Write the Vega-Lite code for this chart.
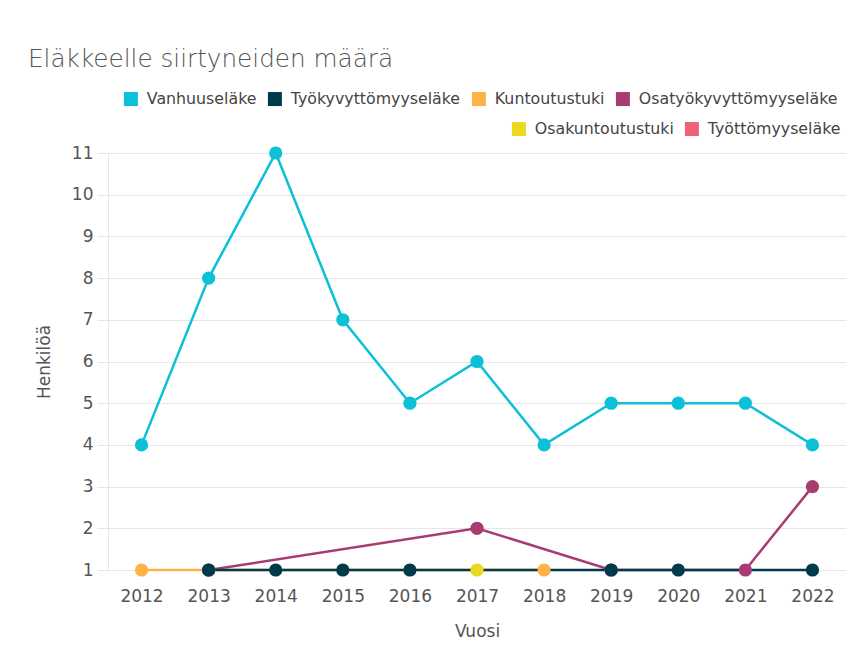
{
  "$schema": "https://vega.github.io/schema/vega-lite/v6.json",
  "width": 738,
  "height": 417,
  "autosize": "none",
  "padding": {"left": 108, "top": 153, "right": 1, "bottom": 81},
  "background": "white",
  "title": {
    "text": "Eläkkeelle siirtyneiden määrä",
    "anchor": "start",
    "frame": "group",
    "dx": -80,
    "fontSize": 24.7,
    "font": "DejaVu Sans",
    "fontWeight": 300,
    "color": "#555555",
    "offset": 19
  },
  "config": {
    "font": "DejaVu Sans",
    "view": {"stroke": null},
    "legend": {
      "symbolType": "square",
      "symbolSize": 196,
      "symbolStrokeWidth": 0,
      "labelFontSize": 15.8,
      "labelColor": "#444444",
      "labelFont": "DejaVu Sans",
      "columnPadding": 10,
      "labelOffset": 8,
      "labelLimit": 400,
      "title": null
    }
  },
  "resolve": {"scale": {"fill": "independent"}, "legend": {"fill": "independent"}},
  "data": {
    "values": [
      {"Vuosi": "2012", "Sarja": "Vanhuuseläke", "Henkilöä": 4},
      {"Vuosi": "2013", "Sarja": "Vanhuuseläke", "Henkilöä": 8},
      {"Vuosi": "2014", "Sarja": "Vanhuuseläke", "Henkilöä": 11},
      {"Vuosi": "2015", "Sarja": "Vanhuuseläke", "Henkilöä": 7},
      {"Vuosi": "2016", "Sarja": "Vanhuuseläke", "Henkilöä": 5},
      {"Vuosi": "2017", "Sarja": "Vanhuuseläke", "Henkilöä": 6},
      {"Vuosi": "2018", "Sarja": "Vanhuuseläke", "Henkilöä": 4},
      {"Vuosi": "2019", "Sarja": "Vanhuuseläke", "Henkilöä": 5},
      {"Vuosi": "2020", "Sarja": "Vanhuuseläke", "Henkilöä": 5},
      {"Vuosi": "2021", "Sarja": "Vanhuuseläke", "Henkilöä": 5},
      {"Vuosi": "2022", "Sarja": "Vanhuuseläke", "Henkilöä": 4},
      {"Vuosi": "2013", "Sarja": "Työkyvyttömyyseläke", "Henkilöä": 1},
      {"Vuosi": "2014", "Sarja": "Työkyvyttömyyseläke", "Henkilöä": 1},
      {"Vuosi": "2015", "Sarja": "Työkyvyttömyyseläke", "Henkilöä": 1},
      {"Vuosi": "2016", "Sarja": "Työkyvyttömyyseläke", "Henkilöä": 1},
      {"Vuosi": "2019", "Sarja": "Työkyvyttömyyseläke", "Henkilöä": 1},
      {"Vuosi": "2020", "Sarja": "Työkyvyttömyyseläke", "Henkilöä": 1},
      {"Vuosi": "2022", "Sarja": "Työkyvyttömyyseläke", "Henkilöä": 1},
      {"Vuosi": "2012", "Sarja": "Kuntoutustuki", "Henkilöä": 1},
      {"Vuosi": "2013", "Sarja": "Kuntoutustuki", "Henkilöä": 1},
      {"Vuosi": "2018", "Sarja": "Kuntoutustuki", "Henkilöä": 1},
      {"Vuosi": "2013", "Sarja": "Osatyökyvyttömyyseläke", "Henkilöä": 1},
      {"Vuosi": "2017", "Sarja": "Osatyökyvyttömyyseläke", "Henkilöä": 2},
      {"Vuosi": "2019", "Sarja": "Osatyökyvyttömyyseläke", "Henkilöä": 1},
      {"Vuosi": "2021", "Sarja": "Osatyökyvyttömyyseläke", "Henkilöä": 1},
      {"Vuosi": "2022", "Sarja": "Osatyökyvyttömyyseläke", "Henkilöä": 3},
      {"Vuosi": "2017", "Sarja": "Osakuntoutustuki", "Henkilöä": 1}
    ]
  },
  "encoding": {
    "x": {
      "field": "Vuosi",
      "type": "ordinal",
      "scale": {"type": "point", "padding": 0.5, "domain": ["2012","2013","2014","2015","2016","2017","2018","2019","2020","2021","2022"]},
      "axis": {
        "title": "Vuosi",
        "labelAngle": 0,
        "labelFontSize": 17,
        "labelColor": "#555555",
        "labelPadding": 18,
        "titleFontSize": 17,
        "titleColor": "#555555",
        "titleFontWeight": "normal",
        "titlePadding": 19,
        "ticks": false,
        "domain": false,
        "grid": false
      }
    },
    "y": {
      "field": "Henkilöä",
      "type": "quantitative",
      "scale": {"domain": [1, 11], "nice": false, "zero": false},
      "axis": {
        "title": "Henkilöä",
        "values": [1,2,3,4,5,6,7,8,9,10,11],
        "labelFontSize": 17,
        "labelColor": "#555555",
        "labelPadding": 4,
        "titleFontSize": 17,
        "titleColor": "#555555",
        "titleFontWeight": "normal",
        "titlePadding": 18,
        "tickSize": 11,
        "tickColor": "#e6e6e6",
        "gridColor": "#e6e6e6",
        "domainColor": "#e6e6e6"
      }
    },
    "color": {
      "field": "Sarja",
      "type": "nominal",
      "scale": {
        "domain": ["Vanhuuseläke","Työkyvyttömyyseläke","Kuntoutustuki","Osatyökyvyttömyyseläke","Osakuntoutustuki","Työttömyyseläke"],
        "range": ["#0cc0d8","#003b4c","#ffb347","#a63c71","#e9d91f","#ef6179"]
      },
      "legend": null
    }
  },
  "layer": [
    {
      "transform": [{"filter": "datum.Sarja != 'Työkyvyttömyyseläke'"}],
      "mark": {"type": "line", "strokeWidth": 2.5}
    },
    {
      "transform": [{"filter": "datum.Sarja == 'Työkyvyttömyyseläke'"}],
      "mark": {"type": "line", "strokeWidth": 2.5}
    },
    {
      "transform": [{"filter": "datum.Sarja != 'Työkyvyttömyyseläke'"}],
      "mark": {"type": "point", "filled": true, "opacity": 1, "size": 175}
    },
    {
      "transform": [{"filter": "datum.Sarja == 'Työkyvyttömyyseläke'"}],
      "mark": {"type": "point", "filled": true, "opacity": 1, "size": 175}
    },
    {
      "transform": [{"filter": "datum.Henkilöä < 0"}],
      "mark": {"type": "square", "opacity": 1},
      "encoding": {
        "color": {"value": "#000000"},
        "fill": {
          "field": "Sarja",
          "type": "nominal",
          "scale": {
            "domain": ["Vanhuuseläke","Työkyvyttömyyseläke","Kuntoutustuki","Osatyökyvyttömyyseläke"],
            "range": ["#0cc0d8","#003b4c","#ffb347","#a63c71"]
          },
          "legend": {"orient": "none", "direction": "horizontal", "legendX": 15, "legendY": -62}
        }
      }
    },
    {
      "transform": [{"filter": "datum.Henkilöä < 0"}],
      "mark": {"type": "square", "opacity": 1},
      "encoding": {
        "color": {"value": "#000000"},
        "fill": {
          "field": "Sarja",
          "type": "nominal",
          "scale": {
            "domain": ["Osakuntoutustuki","Työttömyyseläke"],
            "range": ["#e9d91f","#ef6179"]
          },
          "legend": {"orient": "none", "direction": "horizontal", "legendX": 403, "legendY": -32}
        }
      }
    }
  ]
}
